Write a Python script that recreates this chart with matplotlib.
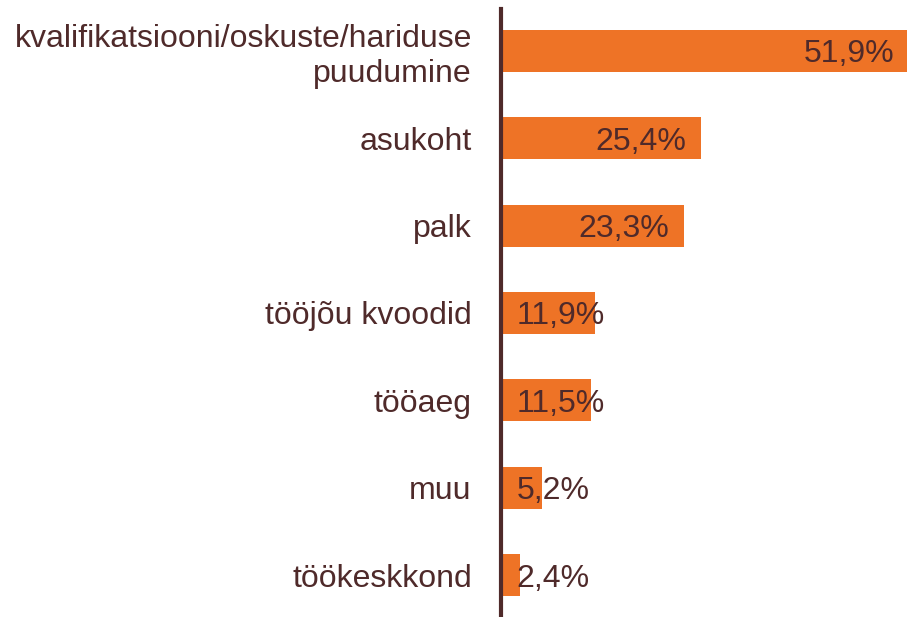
import matplotlib.pyplot as plt

plt.rcParams['font.family'] = ['Liberation Sans', 'DejaVu Sans']

# andmed
categories = ["kvalifikatsiooni/oskuste/hariduse\npuudumine", "asukoht", "palk",
              "tööjõu kvoodid", "tööaeg", "muu", "töökeskkond"]
values = [51.9, 25.4, 23.3, 11.9, 11.5, 5.2, 2.4]
labels = ["51,9%", "25,4%", "23,3%", "11,9%", "11,5%", "5,2%", "2,4%"]

orange = "#EE7326"
brown = "#4F2A2A"

fig = plt.figure(figsize=(9.07, 6.17), dpi=100)
ax = fig.add_axes([501 / 907, 0, 406 / 907, 608 / 617])

pos = list(range(len(values)))
ax.barh(pos, values, height=0.48, color=orange, zorder=1)

for p, v, t in zip(pos, values, labels):
    if v - 1.9 < 13.5:
        ax.text(2.0, p, t, ha='left', va='center_baseline', fontsize=23, color=brown, zorder=3)
    else:
        ax.text(v - 1.9, p, t, ha='right', va='center_baseline', fontsize=23, color=brown, zorder=3)

ax.set_xlim(0, 51.6)
ax.set_ylim(6.48, -0.48)
ax.set_yticks(pos)
ax.set_yticklabels(categories, fontsize=23, color=brown, linespacing=1.2)
ax.tick_params(axis='y', length=0, pad=21)
ax.set_xticks([])
for s in ['top', 'right', 'bottom']:
    ax.spines[s].set_visible(False)
ax.spines['left'].set_color(brown)
ax.spines['left'].set_linewidth(3)
ax.spines['left'].set_zorder(4)

fig.savefig("out.png", dpi=100)
